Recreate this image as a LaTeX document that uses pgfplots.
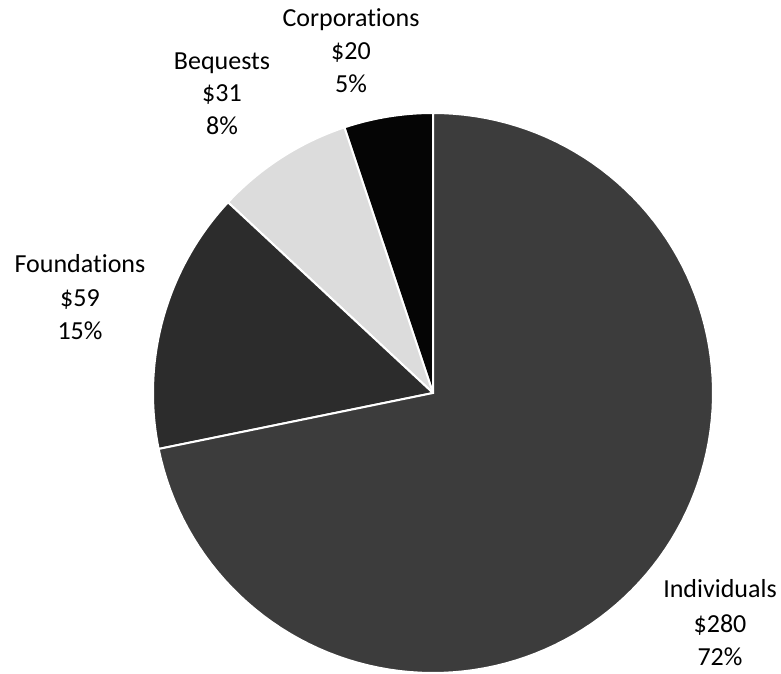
\documentclass[border=0pt]{standalone}
\usepackage{fontspec}
\setmainfont{Carlito}[Ligatures={NoCommon,NoContextual}]
\usepackage{pgfplots}
\pgfplotsset{compat=1.18}

\definecolor{indiv}{HTML}{3C3C3C}
\definecolor{found}{HTML}{2C2C2C}
\definecolor{beq}{HTML}{DCDCDC}
\definecolor{corp}{HTML}{050505}

% values ($ billions)
\def\vCorp{20}
\def\vBeq{31}
\def\vFound{59}
\def\vIndiv{280}

\begin{document}
\begin{tikzpicture}[lbl/.style={font=\fontsize{26}{34}\selectfont, anchor=base, inner sep=0pt, text=black}]
\pgfmathsetmacro{\tot}{\vCorp+\vBeq+\vFound+\vIndiv}
\pgfmathsetmacro{\aA}{90}
\pgfmathsetmacro{\aB}{\aA+\vCorp/\tot*360}
\pgfmathsetmacro{\aC}{\aB+\vBeq/\tot*360}
\pgfmathsetmacro{\aD}{\aC+\vFound/\tot*360}
\pgfmathsetmacro{\aE}{\aD+\vIndiv/\tot*360}
\begin{axis}[
  width=781pt, height=674pt, scale only axis,
  xmin=0, xmax=781, ymin=0, ymax=674,
  hide axis, clip=false,
  samples=120,
]
  \path (axis cs:0,0) rectangle (axis cs:781,674);
  \addplot[fill=corp, draw=white, line width=2pt, domain=\aA:\aB, variable=\t]
    ({433+280*cos(\t)},{281+280*sin(\t)}) -- (axis cs:433,281) -- cycle;
  \addplot[fill=beq, draw=white, line width=2pt, domain=\aB:\aC, variable=\t]
    ({433+280*cos(\t)},{281+280*sin(\t)}) -- (axis cs:433,281) -- cycle;
  \addplot[fill=found, draw=white, line width=2pt, domain=\aC:\aD, variable=\t]
    ({433+280*cos(\t)},{281+280*sin(\t)}) -- (axis cs:433,281) -- cycle;
  \addplot[fill=indiv, draw=white, line width=2pt, domain=\aD:\aE, variable=\t]
    ({433+280*cos(\t)},{281+280*sin(\t)}) -- (axis cs:433,281) -- cycle;

  \node[lbl] at (axis cs:351,647) {Corporat\kern0pt ions};
  \node[lbl] at (axis cs:351,614) {\$20};
  \node[lbl] at (axis cs:351,581) {5\%};

  \node[lbl] at (axis cs:222,604) {Bequests};
  \node[lbl] at (axis cs:222,572) {\$31};
  \node[lbl] at (axis cs:222,539) {8\%};

  \node[lbl] at (axis cs:80,401) {Foundat\kern0pt ions};
  \node[lbl] at (axis cs:80,367) {\$59};
  \node[lbl] at (axis cs:80,334) {15\%};

  \node[lbl] at (axis cs:720,76) {Individuals};
  \node[lbl] at (axis cs:720,41) {\$280};
  \node[lbl] at (axis cs:720,9) {72\%};
\end{axis}
\end{tikzpicture}
\end{document}
